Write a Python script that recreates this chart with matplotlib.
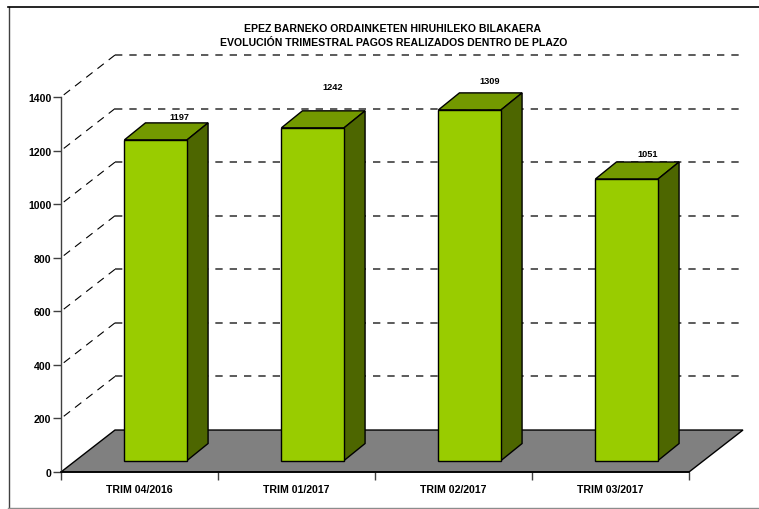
import matplotlib
matplotlib.use('Agg')
import matplotlib.pyplot as plt
from matplotlib.lines import Line2D
from matplotlib.patches import Polygon, Rectangle

# Values
categories = ['TRIM 04/2016', 'TRIM 01/2017', 'TRIM 02/2017', 'TRIM 03/2017']
values = [1197, 1242, 1309, 1051]
y_ticks = [0, 200, 400, 600, 800, 1000, 1200, 1400]
title_lines = ['EPEZ BARNEKO ORDAINKETEN HIRUHILEKO BILAKAERA',
               'EVOLUCIÓN TRIMESTRAL PAGOS REALIZADOS DENTRO DE PLAZO']

# Where each value label sits relative to its bar (the original is uneven)
label_lift = [25, 92, 45, 30]
label_shift = [0.347, 0.328, 0.328, 0.335]

plt.rcParams['font.family'] = ['Liberation Sans', 'DejaVu Sans']
plt.rcParams['font.weight'] = 'bold'

W, H = 759, 510
fig = plt.figure(figsize=(W / 100, H / 100), dpi=100)

# Axes box is the front plane of the 3D chart
ax = fig.add_axes([61 / W, 1 - 473 / H, 628 / W, 375 / H])
ax.set_xlim(0, 4)
ax.set_ylim(0, 1400)
ax.patch.set_visible(False)

# Depth of the chart walls and bars in data units
wall_dx, wall_dy = 54 / 157, 42 / 0.268
bar_dx, bar_dy = 21 / 157, 17 / 0.268
bar_left, bar_width = 0.404, 0.399
bar_base_dy = 11.5 / 0.268

# floor
ax.add_patch(Polygon([(0, 0), (4, 0), (4 + wall_dx, wall_dy), (wall_dx, wall_dy)],
                     closed=True, facecolor='#808080', edgecolor='black', lw=1.0,
                     clip_on=False, zorder=2))

# grid on the side and back walls, dashes run out from the back corner
for t in y_ticks[1:]:
    ax.plot([wall_dx, 0], [t + wall_dy, t], color='black', lw=0.8, dashes=(7.2, 5.6),
            dash_capstyle='butt', clip_on=False, zorder=1)
    ax.plot([wall_dx, 4 + wall_dx], [t + wall_dy, t + wall_dy], color='#404040', lw=1.2,
            dashes=(4.4, 4.2), dash_capstyle='butt', clip_on=False, zorder=1)

# bars
for i, (cat, v) in enumerate(zip(categories, values)):
    x0 = i + bar_left
    x1 = x0 + bar_width
    y0 = bar_base_dy
    y1 = y0 + v
    ax.add_patch(Rectangle((x0, y0), bar_width, v, facecolor='#99CC00', edgecolor='black',
                           lw=1.0, clip_on=False, zorder=4))
    ax.add_patch(Polygon([(x0, y1), (x1, y1), (x1 + bar_dx, y1 + bar_dy), (x0 + bar_dx, y1 + bar_dy)],
                         closed=True, facecolor='#739900', edgecolor='black', lw=1.0,
                         clip_on=False, zorder=3))
    ax.add_patch(Polygon([(x1, y0), (x1 + bar_dx, y0 + bar_dy), (x1 + bar_dx, y1 + bar_dy), (x1, y1)],
                         closed=True, facecolor='#4D6600', edgecolor='black', lw=1.0,
                         clip_on=False, zorder=3))
    ax.text(x0 + label_shift[i], y1 + bar_dy + label_lift[i], str(v), ha='center', va='center',
            fontsize=6.6, clip_on=False, zorder=5)

# axes
for side in ['top', 'right']:
    ax.spines[side].set_visible(False)
ax.spines['left'].set_color('#404040')
ax.spines['left'].set_linewidth(1.0)
ax.spines['bottom'].set_linewidth(1.2)
ax.set_yticks(y_ticks)
ax.set_xticks(range(5))
ax.set_xticklabels([])
ax.set_xticks([i + 0.5 for i in range(4)], minor=True)
ax.set_xticklabels(categories, minor=True)
ax.tick_params(axis='x', which='minor', length=0, pad=9, labelsize=7.6)
ax.tick_params(axis='x', which='major', length=6, width=1, color='#404040')
ax.tick_params(axis='y', length=6, width=1, color='#404040', pad=1, labelsize=7.6)

# title
fig.text(393 / W, 1 - 29.5 / H, title_lines[0], ha='center', va='center', fontsize=7.55)
fig.text(393.5 / W, 1 - 43.5 / H, title_lines[1], ha='center', va='center', fontsize=7.6)

# outer frame, open on the right and running off the picture
fig.add_artist(Line2D([8.5 / W, 8.5 / W], [1 - 8 / H, 1 - 509 / H], color='#404040', lw=1.0))
fig.add_artist(Line2D([8 / W, 1], [1 - 8 / H, 1 - 8 / H], color='black', lw=1.2))
fig.add_artist(Line2D([8 / W, 1], [1 - 509 / H, 1 - 509 / H], color='#8c8c8c', lw=1.0))

fig.savefig('out.png', dpi=100)
